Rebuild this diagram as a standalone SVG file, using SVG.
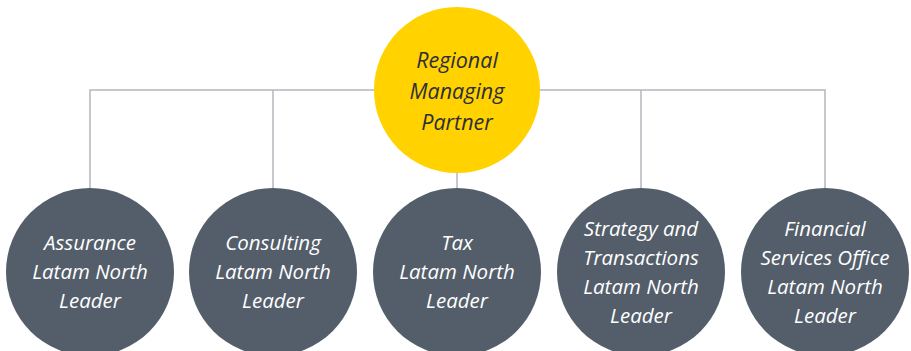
<svg xmlns="http://www.w3.org/2000/svg" width="911" height="351" viewBox="0 0 911 351">
  <style>
    .link { stroke: #b3b8bf; stroke-width: 1.5; fill: none; }
    .head { fill: #ffd200; }
    .unit { fill: #535e6a; }
    .lbl { font-family: "Open Sans", "Noto Sans", sans-serif; font-style: italic; font-size: 20.5px; text-anchor: middle; }
    .dark { fill: #2e2e38; font-size: 21.5px; }
    .light { fill: #ffffff; }
  </style>
  <rect width="911" height="351" fill="#ffffff"/>

  <!-- connectors -->
  <g id="connectors">
    <path class="link" d="M90 188 V90 H825 V188"/>
    <path class="link" d="M273 90 V188"/>
    <path class="link" d="M641 90 V188"/>
    <path class="link" d="M457 172 V188"/>
  </g>

  <!-- top node -->
  <g id="regional-managing-partner">
    <circle class="head" cx="457" cy="90" r="83"/>
    <text class="lbl dark" x="457" y="68">Regional</text>
    <text class="lbl dark" x="457" y="99">Managing</text>
    <text class="lbl dark" x="457" y="130">Partner</text>
  </g>

  <!-- service line leaders -->
  <g id="assurance">
    <circle class="unit" cx="90" cy="272" r="84"/>
    <text class="lbl light" x="90" y="250">Assurance</text>
    <text class="lbl light" x="90" y="279">Latam North</text>
    <text class="lbl light" x="90" y="308">Leader</text>
  </g>

  <g id="consulting">
    <circle class="unit" cx="273" cy="272" r="84"/>
    <text class="lbl light" x="273" y="250">Consulting</text>
    <text class="lbl light" x="273" y="279">Latam North</text>
    <text class="lbl light" x="273" y="308">Leader</text>
  </g>

  <g id="tax">
    <circle class="unit" cx="457" cy="272" r="84"/>
    <text class="lbl light" x="457" y="250">Tax</text>
    <text class="lbl light" x="457" y="279">Latam North</text>
    <text class="lbl light" x="457" y="308">Leader</text>
  </g>

  <g id="strategy-transactions">
    <circle class="unit" cx="641" cy="272" r="84"/>
    <text class="lbl light" x="641" y="236">Strategy and</text>
    <text class="lbl light" x="641" y="265">Transactions</text>
    <text class="lbl light" x="641" y="294">Latam North</text>
    <text class="lbl light" x="641" y="323">Leader</text>
  </g>

  <g id="financial-services-office">
    <circle class="unit" cx="825" cy="272" r="84"/>
    <text class="lbl light" x="825" y="236">Financial</text>
    <text class="lbl light" x="825" y="265">Services Office</text>
    <text class="lbl light" x="825" y="294">Latam North</text>
    <text class="lbl light" x="825" y="323">Leader</text>
  </g>
</svg>
